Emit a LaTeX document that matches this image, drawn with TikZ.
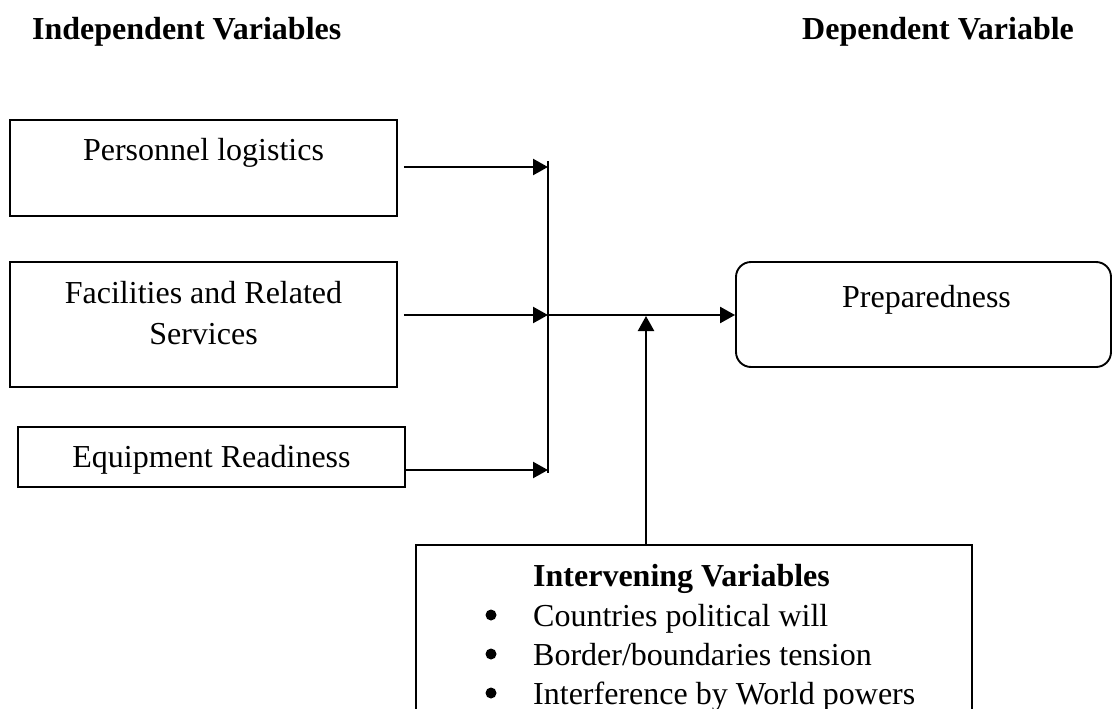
\documentclass[tikz,border=0pt]{standalone}
\usepackage{fontspec}
\setmainfont{Liberation Serif}
\usetikzlibrary{arrows.meta}
\begin{document}
\begin{tikzpicture}[x=1pt,y=-1pt,
  box/.style={draw, line width=1.9pt, inner sep=0pt},
  rbox/.style={draw, line width=1.9pt, inner sep=0pt, rounded corners=15pt},
  txt/.style={inner sep=0pt, anchor=base, font=\fontsize{32}{40}\selectfont},
  ltxt/.style={inner sep=0pt, anchor=base west, font=\fontsize{32}{40}\selectfont},
  btxt/.style={inner sep=0pt, anchor=base west, font=\fontsize{32}{40}\selectfont\bfseries},
  dot/.style={circle, fill, inner sep=0pt, minimum size=11pt},
  conn/.style={line width=2.3pt},
  arr/.style={line width=2.3pt, -{Triangle[length=15pt,width=16pt]}}
]
\useasboundingbox (0,0) rectangle (1113,709);
\clip (0,0) rectangle (1113,709);

% headings
\node[btxt] (hind) at (32,40) {Independent Variables};
\node[btxt] (hdep) at (802,40) {Dependent Variable};

% independent variable boxes
\node[box, minimum width=387pt, minimum height=96pt] (b1) at (203.5,168) {};
\node[txt] (t1) at (203.5,160) {Personnel logistics};

\node[box, minimum width=387pt, minimum height=125pt] (b2) at (203.5,324.5) {};
\node[txt] (t2a) at (203.5,303) {Facilities and Related};
\node[txt] (t2b) at (203.5,344) {Services};

\node[box, minimum width=387pt, minimum height=60pt] (b3) at (211.5,457) {};
\node[txt] (t3) at (211.5,467) {Equipment Readiness};

% dependent variable
\node[rbox, minimum width=375pt, minimum height=105pt] (prep) at (923.5,314.5) {};
\node[txt] (tp) at (926.5,307) {Preparedness};

% intervening variables
\node[box, minimum width=556pt, minimum height=225pt] (iv) at (694,657.5) {};
\node[btxt] (ivt) at (533,586) {Intervening Variables};
\node[dot] (d1) at (491,615) {};
\node[ltxt] (i1) at (533,626) {Countries political will};
\node[dot] (d2) at (491,654) {};
\node[ltxt] (i2) at (533,665) {Border/boundaries tension};
\node[dot] (d3) at (491,693) {};
\node[ltxt] (i3) at (533,704) {Interference by World powers};

% junction coordinates
\coordinate (vt) at (548,161);
\coordinate (vb) at (548,473);
\coordinate (j1) at (548,167);
\coordinate (j2) at (548,315);
\coordinate (j3) at (548,470);
\coordinate (m) at (646,316);

% connectors
\draw[conn] (vt) -- (vb);
\draw[arr] ([xshift=6pt]b1.east |- j1) -- (j1);
\draw[arr] ([xshift=6pt]b2.east |- j2) -- (j2);
\draw[arr] (b3.east |- j3) -- (j3);
\draw[arr] (j2) -- (prep.west |- j2);
\draw[arr] (iv.north -| m) -- (m);
\end{tikzpicture}
\end{document}
